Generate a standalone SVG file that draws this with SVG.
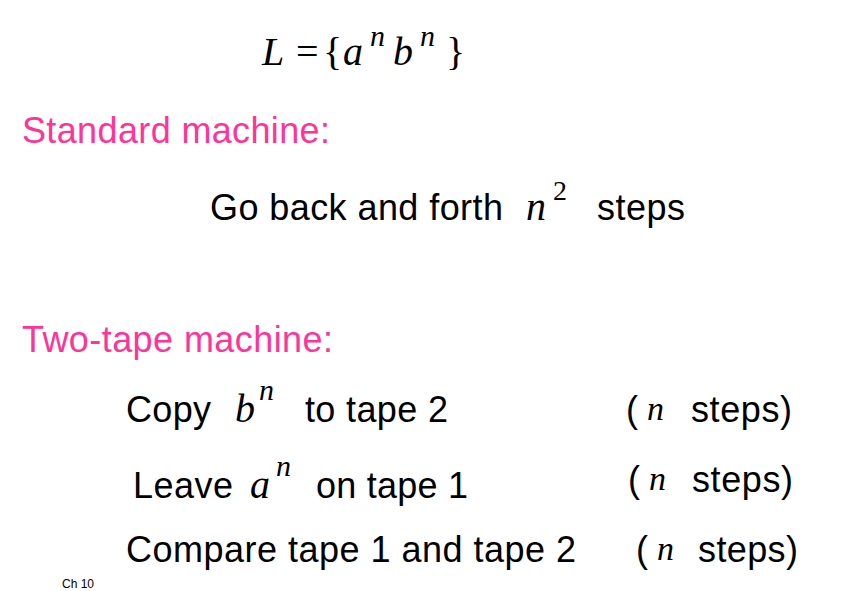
<svg xmlns="http://www.w3.org/2000/svg" width="860" height="591" viewBox="0 0 860 591">
<style>
.s{font-family:"Liberation Sans",Arial,sans-serif;font-size:36px;fill:#000}
.h{font-family:"Liberation Sans",Arial,sans-serif;font-size:36px;fill:#FF3399}
.m{font-family:"Liberation Serif","Times New Roman",serif;font-style:italic;font-size:40px;fill:#000}
.r{font-family:"Liberation Serif","Times New Roman",serif;font-size:40px;fill:#000}
.sup{font-family:"Liberation Serif","Times New Roman",serif;font-style:italic;font-size:30px;fill:#000}
</style>
<rect width="860" height="591" fill="#fff"/>
<text x="262" y="65" class="m">L</text>
<text x="296" y="65" class="r">=</text>
<text x="323" y="65" class="r">{</text>
<text x="343" y="65" class="m">a</text>
<text x="370" y="46" class="sup">n</text>
<text x="393" y="65" class="m">b</text>
<text x="420" y="46" class="sup">n</text>
<text x="446" y="65" class="r">}</text>
<text x="22" y="143" class="h" textLength="308">Standard machine:</text>
<text x="210" y="220" class="s" textLength="293">Go back and forth</text>
<text x="526" y="220" class="m">n</text>
<text x="553" y="200" class="r" style="font-size:28px">2</text>
<text x="597" y="220" class="s" textLength="88">steps</text>
<text x="22" y="352" class="h" textLength="311">Two-tape machine:</text>
<text x="126" y="422" class="s" textLength="85">Copy</text>
<text x="235" y="422" class="m">b</text>
<text x="259" y="400" class="sup">n</text>
<text x="305" y="422" class="s" textLength="143">to tape 2</text>
<text x="626" y="422" class="s">(</text>
<text x="647" y="420" class="m" style="font-size:34px">n</text>
<text x="691" y="422" class="s" textLength="101">steps)</text>
<text x="133" y="498" class="s" textLength="100">Leave</text>
<text x="250" y="498" class="m">a</text>
<text x="276" y="476" class="sup">n</text>
<text x="316" y="498" class="s" textLength="152">on tape 1</text>
<text x="628" y="492" class="s">(</text>
<text x="649" y="490" class="m" style="font-size:34px">n</text>
<text x="692" y="492" class="s" textLength="101">steps)</text>
<text x="126" y="562" class="s" textLength="450">Compare tape 1 and tape 2</text>
<text x="636" y="562" class="s">(</text>
<text x="657" y="560" class="m" style="font-size:34px">n</text>
<text x="698" y="562" class="s" textLength="100">steps)</text>
<text x="62" y="588" font-family="Liberation Sans,Arial,sans-serif" font-size="12">Ch 10</text>
</svg>
